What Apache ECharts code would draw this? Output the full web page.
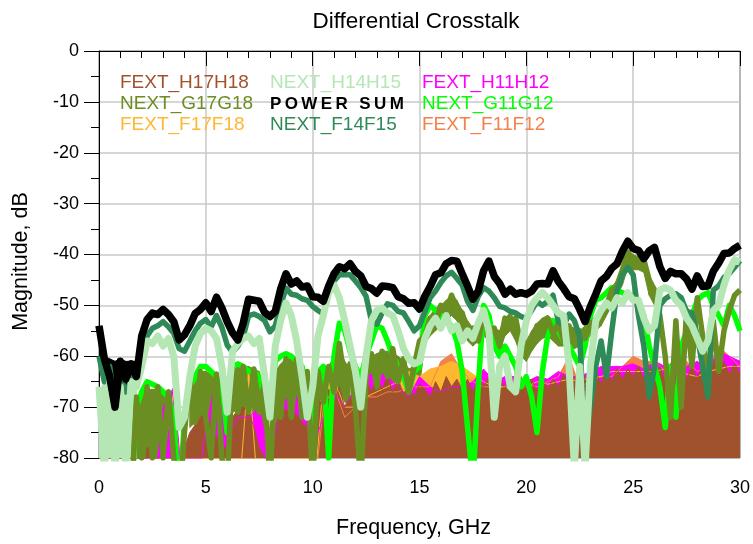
<!DOCTYPE html>
<html lang="en">
<head>
    <meta charset="UTF-8">
    <title>Differential Crosstalk</title>
    <script src="https://cdn.jsdelivr.net/npm/echarts@6/dist/echarts.min.js"></script>
    <style>
        body{ margin:0; background:#fff; }
        #main{ width:753px; height:544px; }
    </style>
</head>
<body>
<div id="main"></div>
<script>
    // frequency grid, GHz
    var fFine = Array.from({length: 121}, (_, i) => i * 0.25);
    var fCoarse = Array.from({length: 61}, (_, i) => i * 0.5);

    // values, dB (0.25 GHz steps)
    var powerSum = [-54, -60.5, -64, -70, -61, -64.5, -61.5, -64, -56, -52.8, -51.5, -51.8, -50.8, -51.8, -53.2, -56.8, -55.8, -54, -51.6, -50.8, -49.5,
        -51.2, -48.4, -50.5, -53.2, -55.4, -56.8, -53.5, -48.8, -49, -49.2, -51.4, -52.2, -51.2, -46.8, -43.8, -45.8, -45.2, -46.4, -46.2, -48.3,
        -48.4, -49.2, -46.2, -43.8, -42.4, -42.8, -41.8, -43.3, -44.2, -46.3, -46.7, -47.6, -46.2, -46.3, -46.5, -48.3, -48.7, -49.6, -49.5, -50.7,
        -48.2, -46.3, -44, -43.6, -41.8, -41.2, -41.3, -43.8, -46.2, -48.8, -47.2, -43.2, -41.3, -44.3, -45.7, -47.8, -46.8, -47.8, -47.5, -47.8,
        -47.2, -45.8, -45.7, -45.8, -43.2, -45.3, -46.7, -48.3, -48.7, -50.8, -53.2, -50.2, -47.8, -45.2, -44.3, -42.7, -41.8, -39.3, -37.4, -38.8,
        -39.2, -40.8, -39.3, -38.6, -42.4, -44.7, -43.3, -43.8, -43.8, -44.8, -46.8, -44.2, -46.3, -46.2, -43.3, -41.7, -39.8, -39.7, -38.8, -38.2];

    var nextF14F15 = [-60, -65, -62, -70, -64, -67, -65, -63, -59.5, -56, -54.5, -54, -53.2, -54.2, -55.5, -58.5, -59, -57, -55, -53.5, -52.8,
        -54.2, -52, -54.3, -57.8, -59.2, -58, -56.2, -52, -51.7, -52.2, -53, -55.2, -54, -50, -46.6, -47.8, -48, -48.7, -49, -50.2,
        -51, -51.7, -47, -45.2, -44, -44, -44, -45.2, -46.5, -48.2, -53, -53.7, -51.5, -49.7, -50, -51.2, -51.5, -53.2, -55, -54,
        -51.2, -48.5, -47.2, -45.5, -44.2, -43.5, -44.7, -46, -49.2, -51, -48.2, -46.5, -47.2, -48.5, -50.2, -50.5, -51.2, -51.5, -52.2, -52.5,
        -51, -49.2, -50, -49.2, -48, -53.2, -54, -51.7, -53, -56.2, -78, -70, -62, -57, -64, -55, -47, -44, -42.5, -44,
        -52, -58, -68, -62, -50, -48.7, -48, -47.7, -48.5, -51.2, -51.5, -56, -62, -68, -47, -46.2, -44.5, -43.7, -42.5, -41.2];

    var nextH14H15 = [-66, -82, -65, -82, -66, -82, -65, -66, -62, -57, -57.5, -56, -58, -56.5, -60, -74, -72, -64, -58, -55.5, -54.5,
        -55, -56.5, -62, -71, -59, -57.5, -56.5, -56, -57.5, -56.5, -64, -72, -58, -53, -49.5, -52, -57, -64, -72, -66,
        -56, -52, -47.5, -46, -48.5, -53, -58, -63, -70, -60, -53, -51, -50.5, -51.5, -52, -55, -58.5, -60.5, -61.5, -61,
        -56.5, -54, -52.5, -54.5, -52, -55, -54, -57, -55, -56.5, -53.5, -51, -55, -72, -62, -60, -66, -67, -58, -53,
        -50, -48.5, -47.5, -48.5, -50, -51.5, -52, -62, -82, -62, -82, -62, -53, -51, -49.5, -50.5, -48.5, -49.5, -47.5, -49,
        -49, -52.5, -55, -54, -47, -46.5, -47, -49, -50, -52.5, -54, -56.5, -59, -57, -51, -50, -46, -43, -41, -41.5];

    var nextG17G18 = [-90, -90, -90, -79, -90, -90, -90, -68, -80, -66, -80, -66, -80, -67, -80, -90, -75, -64, -73, -63, -72,
        -80, -63.5, -80, -85, -62.5, -71, -62, -71, -62.5, -71, -65, -85, -63, -72, -60.5, -72, -60.5, -72, -63, -85,
        -63, -69, -62, -67, -57.5, -65, -61.5, -70, -85, -64, -59.5, -66, -59, -64, -58.5, -65, -60.5, -67, -62, -57,
        -56, -52.5, -53.5, -50, -51.5, -48, -50.5, -51.5, -55.5, -54.5, -57, -52, -55.5, -54.5, -58, -52.5, -54, -52.5, -58, -59,
        -58, -54, -56, -52.5, -55.5, -53.5, -57, -54, -57.5, -55, -56.5, -53.5, -53, -51, -50, -47, -46, -43, -39.5, -41,
        -41.5, -41, -45, -47, -52, -60, -72, -53, -70, -51, -62, -48.5, -56, -66, -53, -63, -55, -51, -48, -47];

    var nextG11G12 = [-90, -90, -90, -90, -90, -90, -90, -70, -67, -65, -65.5, -66, -67, -68, -72, -90, -72, -66, -64, -62, -62,
        -63, -64, -66, -75, -62, -61.5, -62, -63, -63, -64, -68, -72, -61, -60, -59.5, -60, -61, -62, -66, -75,
        -63, -62, -80, -60, -53.5, -55, -59, -62, -64, -60, -57, -54, -54.5, -57, -60, -62, -64, -67, -63, -62,
        -52, -50, -51, -52, -53, -54, -57, -63, -74, -85, -66, -50, -52, -58, -60, -58, -60, -62, -66, -64,
        -68, -75, -63, -56, -53, -55, -57, -58, -60, -62, -58, -52, -49, -48.5, -47.5, -46.5, -47, -47.5, -48, -48,
        -49, -52, -58, -62, -66, -74, -62, -72, -58, -55, -52, -49, -48, -47.5, -50, -52, -54, -50, -52, -55];

    var fextH17H18 = [-90, -90, -90, -90, -90, -90, -90, -90, -90, -78, -78, -90, -90, -90, -90, -90, -78, -75, -73.5, -72, -71,
        -74, -76, -78, -78, -72, -70.5, -70, -70.5, -74, -78, -80, -80, -74, -71, -70.5, -71, -71.5, -73, -74, -72,
        -68, -70, -66.5, -69, -66, -70, -68, -70.5, -67, -64.5, -67, -64, -66.5, -64, -67, -64.5, -67.5, -65.5, -68, -65.5,
        -66.5, -68, -65, -67, -64, -66, -64.5, -66.5, -64.5, -67, -64.5, -66, -64, -66.5, -64, -66.5, -63.5, -66, -64, -66.5,
        -64.5, -67, -64, -66.5, -64.5, -66, -63.5, -66, -64, -67, -64, -65.5, -63, -65.5, -62.5, -65, -62.5, -64.5, -62.5, -64,
        -62, -64.5, -62, -64.5, -62, -65, -61.5, -64, -62, -64.5, -62, -64.5, -61.5, -64, -61, -63.5, -61, -63.5, -61.5, -63.5];

    // spread of the noisy traces (upper / lower edge), same 0.25 GHz grid, null = no spread
    var oliveHi = [null, null, null, null, null, null, null, -68, -67, -66.5, -66.5, -66.5, -67, -67.5, -70, null, null, -65, -64, -63, -63,
        -63.5, -63.5, -65, null, -63, -62, -62, -62, -62.5, -63, -66, null, -63, -61.5, -60.5, -60.5, -61, -62, -64, null,
        -63, -62.5, -62, -60, -58, -61, -62.5, null, null, -62, -60, -59.5, -59, -59, -59.5, -60, -61, -62.5, -62, -58,
        -53, -52, -50.5, -50, -49, -48, -49, -51, -53, -54.5, -53, -52, -53, -54.5, -55, -52.5, -51.5, -53, -56, -57,
        -55, -53.5, -52.5, -52, -53, -54, -54.5, -54, -54.5, -55, -54, -53, -52, -51, -49, -46.5, -45, -42.5, -39.5, -40,
        -40.5, -40.5, -44, -46.5, null, null, null, null, null, null, null, null, null, null, null, null, null, null, null, null];
    var oliveLo = [null, null, null, null, null, null, null, -80, -80, -80, -80, -80, -80, -80, -80, null, null, -74, -73, -72, -72,
        -80, -80, -80, null, -71, -70.5, -70, -70.5, -74, -78, -80, null, -74, -71, -70.5, -71, -71.5, -73, -74, null,
        -68, -69, -67, -68, -66.5, -69, -70, null, null, -65, -66, -64.5, -66, -65, -66.5, -65, -67, -66, -67.5, -66,
        -57.5, -56, -55, -54, -53, -52, -53, -55, -57, -58, -57, -56, -57, -58.5, -59, -56, -55, -57, -60, -61,
        -59, -57.5, -56.5, -56, -57, -58, -58, -58, -58.5, -58, -57, -56, -55, -54, -52, -50, -48, -46, -42.5, -43,
        -43, -43.5, -48, -50, null, null, null, null, null, null, null, null, null, null, null, null, null, null, null, null];
    var lightHi = [-67, -65, -65, -66, -65, -66, -66, -66];
    var lightLo = [-82, -82, -82, -82, -82, -82, -82, -82];
    var sumHi = [-54, -60, -60.5, -61, -60.5, -61, -61, -61];
    var sumLo = [-57, -65, -65.5, -66, -65.5, -66, -66, -66];

    // 0.5 GHz steps
    var fextH11H12 = [-90, -90, -90, -90, -90, -90, -70, -66, -90, -90, -74,
        -64, -76, -72, -72, -70, -80, -70, -67, -69, -78,
        -72, -67, -70, -66, -64, -63, -64, -66, -68, -64,
        -66, -67, -66, -66, -65, -62.5, -65, -64, -64, -65,
        -64, -64.5, -63, -64, -64, -63, -62, -62, -62, -61.5,
        -62.5, -61, -62, -61, -62, -61, -62.5, -59, -60, -61];

    var fextF17F18 = [-90, -90, -90, -90, -90, -90, -80, -67, -90, -90, -90,
        -90, -90, -90, -62.5, -90, -90, -90, -90, -90, -90,
        -65, -64.5, -70, -70, -68, -67, -66, -65, -63, -64,
        -62.5, -62, -61, -62, -63.5, -65, -66, -66, -66, -66,
        -65, -65.5, -65, -64.5, -65, -64, -64, -63, -63, -63,
        -63, -63, -62.5, -62, -63.5, -64, -63, -62.5, -62, -62];

    var fextF11F12 = [-90, -90, -90, -90, -90, -90, -90, -90, -90, -90, -90,
        -90, -90, -90, -90, -90, -90, -90, -90, -90, -90,
        -70, -66, -72, -70, -68, -68, -67, -67, -66, -66,
        -66, -61, -59.5, -63, -65, -66, -66, -66, -66, -65.5,
        -66, -65, -64, -60, -66, -65, -64, -64, -62, -60,
        -61, -61, -63, -62, -61, -63, -62, -58, -60, -62];

    var font = '"Liberation Sans", Arial, sans-serif';

    function pairs(xs, ys) {
        return xs.map((x, i) => [x, ys[i]]);
    }

    function band(name, color, xs, ys) {
        return {
            name: name, type: 'line', data: pairs(xs, ys),
            symbol: 'none', silent: true,
            lineStyle: {color: color, width: 1},
            itemStyle: {color: color},
            areaStyle: {color: color, opacity: 1, origin: 'start'}
        };
    }

    function trace(name, color, width, ys) {
        return {
            name: name, type: 'line', data: pairs(fFine, ys),
            symbol: 'none', silent: true,
            lineStyle: {color: color, width: width, join: 'round'},
            itemStyle: {color: color}
        };
    }

    // filled strip between lower and upper edge of a noisy trace
    function spread(name, color, lo, hi) {
        var items = [];
        for (var i = 0; i < lo.length - 1; i++) {
            if (lo[i] == null || lo[i + 1] == null) continue;
            items.push([fFine[i], lo[i], hi[i], fFine[i + 1], lo[i + 1], hi[i + 1]]);
        }
        return {
            name: name, type: 'custom', silent: true, clip: true,
            encode: {x: [0, 3], y: [1, 2, 4, 5]},
            data: items,
            renderItem: function (params, api) {
                var pts = [
                    api.coord([api.value(0), api.value(2)]),
                    api.coord([api.value(3), api.value(5)]),
                    api.coord([api.value(3), api.value(4)]),
                    api.coord([api.value(0), api.value(1)])
                ];
                return {type: 'polygon', shape: {points: pts}, style: {fill: color, stroke: color, lineWidth: 1}};
            }
        };
    }

    var colors = {
        'FEXT_H17H18': '#a0522d',
        'NEXT_H14H15': '#b5e7b5',
        'FEXT_H11H12': '#ff00ff',
        'NEXT_G17G18': '#6b8e23',
        'POWER SUM': '#000000',
        'NEXT_G11G12': '#00ff00',
        'FEXT_F17F18': '#ffb732',
        'NEXT_F14F15': '#2e8b57',
        'FEXT_F11F12': '#f4814a'
    };

    var legendCols = [
        ['FEXT_H17H18', 'NEXT_G17G18', 'FEXT_F17F18'],
        ['NEXT_H14H15', 'POWER SUM', 'NEXT_F14F15'],
        ['FEXT_H11H12', 'NEXT_G11G12', 'FEXT_F11F12']
    ];
    var legendLeft = [115, 265, 417];

    var legends = legendCols.map((col, k) => ({
        left: legendLeft[k], top: 73, orient: 'vertical',
        icon: 'none', itemWidth: 0, itemHeight: 14, itemGap: 1,
        selectedMode: false, padding: 0,
        formatter: function (name) {
            return name === 'POWER SUM' ? name.split('').join('\u2009') : name;
        },
        data: col.map(n => ({
            name: n,
            textStyle: n === 'POWER SUM'
                ? {color: '#000', fontWeight: 'bold', fontSize: 17, fontFamily: font, lineHeight: 20}
                : {color: colors[n], fontSize: 19, fontFamily: font, lineHeight: 20}
        }))
    }));

    var myChart = echarts.init(document.getElementById('main'));

    var option = {
        animation: false,
        backgroundColor: '#fff',
        title: {
            text: 'Differential Crosstalk',
            left: 411, top: 5, textAlign: 'center',
            textStyle: {fontSize: 22.5, fontWeight: 'normal', color: '#000', fontFamily: font}
        },
        legend: legends,
        grid: {
            left: 99, right: 12, top: 51, bottom: 85,
            show: true, borderColor: '#000', borderWidth: 1
        },
        xAxis: {
            type: 'value', min: 0, max: 30, interval: 5,
            name: 'Frequency, GHz', nameLocation: 'middle', nameGap: 59,
            nameTextStyle: {fontSize: 21.5, color: '#000', fontFamily: font, padding: [0, 12, 0, 0]},
            axisLine: {lineStyle: {color: '#000', width: 1}},
            axisTick: {length: 15, lineStyle: {color: '#000'}},
            minorTick: {show: true, splitNumber: 5, length: 7, lineStyle: {color: '#000'}},
            axisLabel: {fontSize: 18, color: '#000', margin: 21, fontFamily: font},
            splitLine: {lineStyle: {color: '#c8c8c8', width: 1.5}}
        },
        yAxis: {
            type: 'value', min: -80, max: 0, interval: 10,
            name: 'Magnitude, dB', nameLocation: 'middle', nameGap: 67,
            nameTextStyle: {fontSize: 21.5, color: '#000', fontFamily: font, padding: [0, 14, 0, 0]},
            axisLine: {lineStyle: {color: '#000', width: 1}},
            axisTick: {length: 15, lineStyle: {color: '#000'}},
            minorTick: {show: true, splitNumber: 2, length: 8, lineStyle: {color: '#000'}},
            axisLabel: {fontSize: 18, color: '#000', margin: 20, fontFamily: font},
            splitLine: {lineStyle: {color: '#c8c8c8', width: 1.5}}
        },
        series: [
            band('FEXT_F11F12', colors['FEXT_F11F12'], fCoarse, fextF11F12),
            band('FEXT_F17F18', colors['FEXT_F17F18'], fCoarse, fextF17F18),
            band('FEXT_H11H12', colors['FEXT_H11H12'], fCoarse, fextH11H12),
            band('FEXT_H17H18', colors['FEXT_H17H18'], fFine, fextH17H18),
            trace('NEXT_G11G12', colors['NEXT_G11G12'], 5.5, nextG11G12),
            spread('NEXT_G17G18', colors['NEXT_G17G18'], oliveLo, oliveHi),
            trace('NEXT_G17G18', colors['NEXT_G17G18'], 5.5, nextG17G18),
            trace('NEXT_F14F15', colors['NEXT_F14F15'], 5.5, nextF14F15),
            spread('NEXT_H14H15', colors['NEXT_H14H15'], lightLo, lightHi),
            trace('NEXT_H14H15', colors['NEXT_H14H15'], 7, nextH14H15),
            spread('POWER SUM', colors['POWER SUM'], sumLo, sumHi),
            trace('POWER SUM', colors['POWER SUM'], 7.5, powerSum)
        ]
    };

    myChart.setOption(option);
</script>
</body>
</html>
